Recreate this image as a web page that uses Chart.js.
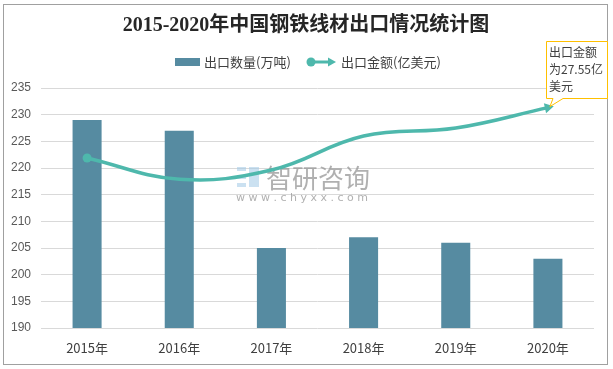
<!DOCTYPE html>
<html>
<head>
<meta charset="utf-8">
<script src="https://cdn.jsdelivr.net/npm/chart.js@4"></script>
<style>
  html, body { margin: 0; padding: 0; background: #fff; }
  #wrap { width: 613px; height: 369px; }
</style>
</head>
<body>
<div id="wrap"><canvas id="myChart" width="613" height="369"></canvas></div>
<script>
const years = ['2015年', '2016年', '2017年', '2018年', '2019年', '2020年'];
// 出口数量(万吨)
const exportVolume = [229, 227, 205, 207, 206, 203];
// 出口金额(亿美元), secondary axis (hidden)
const exportValue = [21.25, 18.6, 19.75, 24, 25, 27.55];
const volumeTicks = [190, 195, 200, 205, 210, 215, 220, 225, 230, 235];

const barColor = 'rgb(86,139,161)';
const lineColor = 'rgb(78,184,172)';
const cjk = '"Noto Sans CJK SC", "Microsoft YaHei", sans-serif';

// title, legend, watermark, callout, frame
const decorations = {
  id: 'decorations',
  beforeDatasetsDraw(chart) {
    const ctx = chart.ctx;
    ctx.save();
    // watermark
    ctx.fillStyle = 'rgba(160,200,230,0.55)';
    ctx.fillRect(237, 167, 9, 4);
    ctx.fillRect(237, 175, 9, 4);
    ctx.fillRect(237, 183, 9, 4);
    ctx.fillRect(249, 167, 10, 20);
    ctx.fillStyle = 'rgba(150,150,150,0.75)';
    ctx.font = '26px ' + cjk;
    ctx.textBaseline = 'middle';
    ctx.fillText('智研咨询', 266, 178);
    ctx.font = '11px "DejaVu Sans", sans-serif';
    ctx.fillText('w w w . c h y x x . c o m', 236, 198);
    ctx.restore();
  },
  afterDraw(chart) {
    const ctx = chart.ctx;
    ctx.save();
    // frame
    ctx.strokeStyle = '#a0a0a0';
    ctx.lineWidth = 1;
    ctx.strokeRect(3.5, 4.5, 604, 360);

    // title
    ctx.fillStyle = '#262626';
    ctx.font = 'bold 20px "Liberation Serif", "Noto Sans CJK SC", serif';
    ctx.textAlign = 'center';
    ctx.textBaseline = 'middle';
    ctx.fillText('2015-2020年中国钢铁线材出口情况统计图', 306, 26);

    // legend
    ctx.textAlign = 'left';
    ctx.font = '13px ' + cjk;
    ctx.fillStyle = barColor;
    ctx.fillRect(175, 58, 25, 8);
    ctx.fillStyle = '#404040';
    ctx.fillText(chart.data.datasets[0].label, 204, 62);
    ctx.strokeStyle = lineColor;
    ctx.fillStyle = lineColor;
    ctx.lineWidth = 3;
    ctx.beginPath();
    ctx.moveTo(311, 62);
    ctx.lineTo(330, 62);
    ctx.stroke();
    ctx.beginPath();
    ctx.arc(311, 62, 4.5, 0, Math.PI * 2);
    ctx.fill();
    ctx.beginPath();
    ctx.moveTo(336, 62);
    ctx.lineTo(328, 57.5);
    ctx.lineTo(328, 66.5);
    ctx.closePath();
    ctx.fill();
    ctx.fillStyle = '#404040';
    ctx.fillText(chart.data.datasets[1].label, 341, 62);

    // callout for last line point
    const meta = chart.getDatasetMeta(1);
    const last = meta.data[meta.data.length - 1];
    const bx = 546, by = 41, bw = 61, bh = 57;
    ctx.fillStyle = '#fff';
    ctx.strokeStyle = '#ffc000';
    ctx.lineWidth = 1;
    ctx.beginPath();
    ctx.moveTo(bx + 0.5, by + 0.5);
    ctx.lineTo(bx + bw + 0.5, by + 0.5);
    ctx.lineTo(bx + bw + 0.5, by + bh + 0.5);
    ctx.lineTo(563, by + bh + 0.5);
    ctx.lineTo(last.x + 2, last.y - 1);
    ctx.lineTo(553, by + bh + 0.5);
    ctx.lineTo(bx + 0.5, by + bh + 0.5);
    ctx.closePath();
    ctx.fill();
    ctx.stroke();
    ctx.fillStyle = '#404040';
    ctx.font = '12px ' + cjk;
    ctx.textBaseline = 'middle';
    const v = exportValue[exportValue.length - 1];
    ctx.fillText('出口金额', bx + 3, by + 11);
    ctx.fillText('为' + v + '亿', bx + 3, by + 28);
    ctx.fillText('美元', bx + 3, by + 45);
    ctx.restore();
  }
};

const ctx = document.getElementById('myChart');
new Chart(ctx, {
  type: 'bar',
  data: {
    labels: years,
    datasets: [{
      type: 'bar',
      label: '出口数量(万吨)',
      data: exportVolume,
      backgroundColor: barColor,
      yAxisID: 'y',
      barPercentage: 0.315,
      categoryPercentage: 1,
      order: 2
    }, {
      type: 'line',
      label: '出口金额(亿美元)',
      data: exportValue,
      borderColor: lineColor,
      backgroundColor: lineColor,
      borderWidth: 3.5,
      tension: 0.4,
      yAxisID: 'y1',
      pointStyle: ['circle', false, false, false, false, 'triangle'],
      pointRadius: [4.5, 0, 0, 0, 0, 6],
      pointRotation: [0, 0, 0, 0, 0, 78],
      pointBorderWidth: 0,
      order: 1
    }]
  },
  options: {
    responsive: false,
    animation: false,
    layout: { padding: { left: 3, right: 19, top: 88, bottom: 0 } },
    plugins: {
      legend: { display: false },
      title: { display: false },
      tooltip: { enabled: false }
    },
    scales: {
      x: {
        grid: { display: false, drawTicks: false },
        border: { display: false },
        ticks: { padding: 12, color: '#404040', font: { size: 13, family: cjk } },
        afterFit: s => { s.height = 41; }
      },
      y: {
        min: 190,
        max: 235,
        grid: { color: '#d9d9d9', drawTicks: false },
        border: { display: false },
        afterBuildTicks: s => { s.ticks = volumeTicks.map(v => ({ value: v })); },
        ticks: { padding: 10, color: '#595959', font: { size: 12, family: '"Liberation Sans", sans-serif' } },
        afterFit: s => { s.width = 38; }
      },
      y1: {
        display: false,
        min: 0,
        max: 30
      }
    }
  },
  plugins: [decorations]
});
</script>
</body>
</html>
